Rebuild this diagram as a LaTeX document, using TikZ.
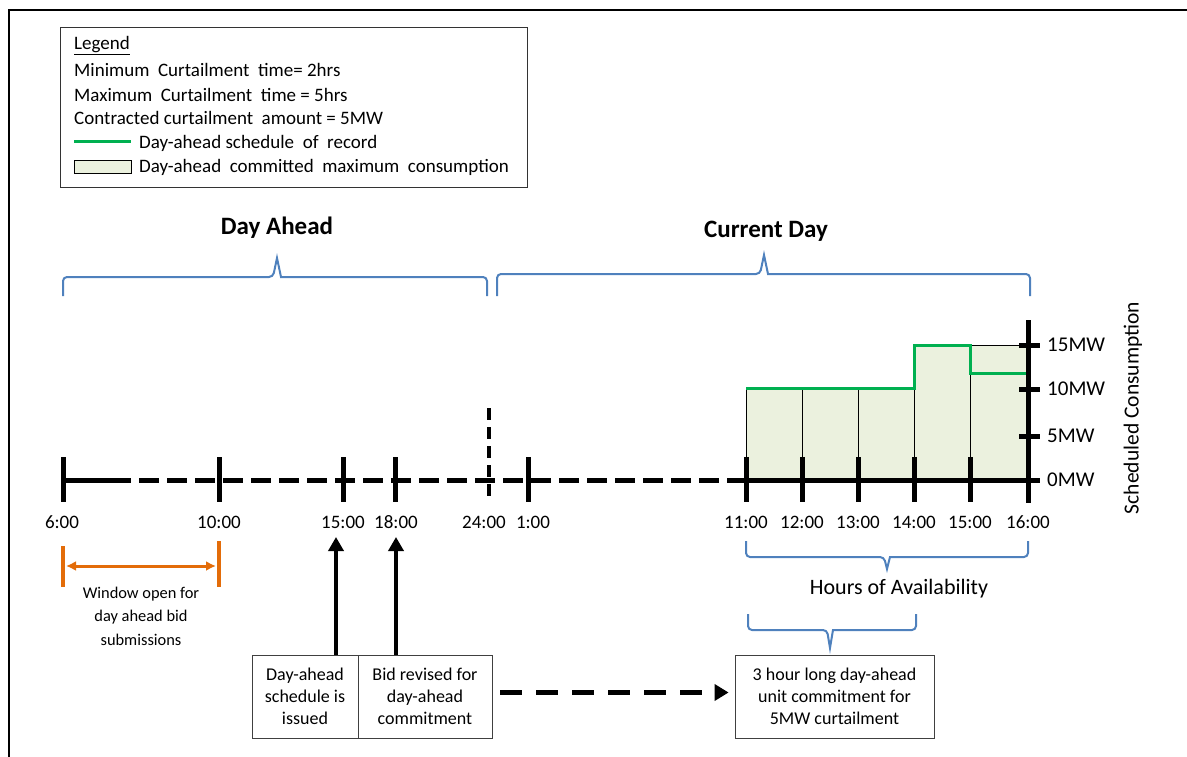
\documentclass[tikz,border=0pt]{standalone}
\usepackage{fontspec}
\setmainfont{Carlito}
\usetikzlibrary{arrows.meta}
\definecolor{schedgreen}{HTML}{00B050}
\definecolor{commitfill}{HTML}{EBF1DE}
\definecolor{braceblue}{HTML}{4F81BD}
\definecolor{winorange}{HTML}{E36C09}
\tikzstyle{bigtick}=[line width=5pt]
\tikzstyle{timelbl}=[font=\fontsize{19}{20}\selectfont,inner sep=0pt]
\tikzstyle{mwlbl}=[font=\fontsize{21}{22}\selectfont,anchor=west,inner sep=0pt]
\tikzstyle{legtext}=[font=\fontsize{19}{20}\selectfont,anchor=west,inner sep=0pt]
\tikzstyle{notebox}=[draw=black!75,thick,minimum height=83pt,align=center,
                     font=\fontsize{18}{22}\selectfont,inner sep=0pt]
\tikzstyle{bracepath}=[braceblue,line width=2pt,rounded corners=4pt]
\tikzstyle{uparrow}=[line width=4pt,-{Triangle[length=14pt,width=15pt]}]

\begin{document}
\begin{tikzpicture}[x=1pt,y=-1pt]
    \useasboundingbox (0,0) rectangle (1187,757);
    \draw[line width=2pt] (9,757) -- (9,10) -- (1187,10);

    % legend
    \draw[draw=black!80,thick] (60,27) rectangle (527,187);
    \node (lgtitle) at (74,46) [legtext]{\underline{Legend}};
    \node (lgmin) at (74,70) [legtext]{Minimum\ \ Curtailment\ \ time= 2hrs};
    \node (lgmax) at (74,95) [legtext]{Maximum\ \ Curtailment\ \ time = 5hrs};
    \node (lgamt) at (74,118) [legtext]{Contracted\ curtailment\ \ amount = 5MW};
    \draw[schedgreen,line width=3pt] (74,142) -- (131,142);
    \node (lgsched) at (139,143) [legtext]{Day-ahead\ schedule\ \ of\ \ record};
    \draw[fill=commitfill,thick] (74,160) rectangle (131,173);
    \node (lgcommit) at (139,167) [legtext]{Day-ahead\ \ committed\ \ maximum\ \ consumption};

    % day headings and braces
    \node (dayahead) at (277,228) [font=\fontsize{25}{26}\selectfont\bfseries]{Day Ahead};
    \node (curday) at (766,231) [font=\fontsize{25}{26}\selectfont\bfseries]{Current Day};
    \draw[bracepath] (63,296) -- (63,277) -- (273,277) [sharp corners] -- (277,258)
                     -- (281,277) [rounded corners=4pt] -- (487,277) -- (487,296);
    \draw[bracepath] (497,296) -- (497,274) -- (760,274) [sharp corners] -- (764,255)
                     -- (768,274) [rounded corners=4pt] -- (1030,274) -- (1030,296);

    % committed consumption blocks
    \fill[commitfill] (746,480) -- (746,388) -- (914,388) -- (914,345)
                      -- (1028,345) -- (1028,480) -- cycle;
    \foreach \x/\top in {746/388,802/388,858/388,914/345,970/345}
        \draw[thick] (\x,480) -- (\x,\top);
    \draw[thick] (970,345) -- (1028,345);
    \draw[schedgreen,line width=3pt] (746,388) -- (914,388) -- (914,345)
                      -- (970,345) -- (970,373) -- (1028,373);

    % time axis
    \draw[bigtick] (63,480) -- (131,480);
    \draw[bigtick,dash pattern=on 20pt off 8pt] (139,480) -- (746,480);
    \draw[bigtick] (746,480) -- (1028,480);
    \draw[line width=4pt,dash pattern=on 12pt off 7pt] (489,408) -- (489,500);
    \node (l24) at (484,522) [timelbl]{24:00};
    \foreach \nm/\x/\lx/\lbl in {t6/63/62/6:00,t10/219/219/10:00,t15/343/343/15:00,
                             t18/395/396/18:00,t1/528/533/1:00,c11/746/746/11:00,
                             c12/802/802/12:00,c13/858/858/13:00,c14/914/914/14:00,
                             c15/970/970/15:00,c16/1028/1028/16:00} {
        \coordinate (\nm) at (\x,480);
        \draw[bigtick] (\x,457) -- (\x,502);
        \node (l\nm) at (\lx,522) [timelbl]{\lbl};
    }

    % consumption axis
    \draw[bigtick] (1028,320) -- (1028,503);
    \foreach \y/\lbl in {480/0MW,436/5MW,389/10MW,345/15MW} {
        \draw[bigtick] (1019,\y) -- (1040,\y);
        \node at (1047,\y) [mwlbl]{\lbl};
    }
    \node (ylabel) at (1133,408) [rotate=90,font=\fontsize{21.5}{22}\selectfont]{Scheduled Consumption};

    % bid window
    \draw[winorange,line width=4pt] (63,546) -- (63,587);
    \draw[winorange,line width=4pt] (219,541) -- (219,587);
    \draw[winorange,line width=3pt,{Latex[length=10pt,width=10pt]}-{Latex[length=10pt,width=10pt]}]
        (66,566) -- (216,566);
    \node (window) at (141,616) [align=center,font=\fontsize{16.4}{23.5}\selectfont]
        {Window open for\\day ahead bid\\submissions};

    % availability braces
    \draw[bracepath] (746,541) -- (746,557) -- (884,557) [sharp corners] -- (887,569)
                     -- (890,557) [rounded corners=4pt] -- (1028,557) -- (1028,541);
    \node (avail) at (899,589) [font=\fontsize{22}{24}\selectfont]{Hours of Availability};
    \draw[bracepath] (748,614) -- (748,630) -- (827,630) [sharp corners] -- (830,648)
                     -- (833,630) [rounded corners=4pt] -- (916,630) -- (916,614);

    % boxes
    \node (issued) at (305,696.5) [notebox,minimum width=106pt]{Day-ahead\\schedule is\\issued};
    \node (revised) at (425,696.5) [notebox,minimum width=134pt]{Bid revised for\\day-ahead\\commitment};
    \node (unitc) at (834.5,696.5) [notebox,minimum width=199pt]{3 hour long day-ahead\\unit commitment for\\5MW curtailment};
    \coordinate (a15) at (336,537);
    \coordinate (a18) at (396,537);
    \draw[uparrow] ([xshift=31pt]issued.north) -- (a15);
    \draw[uparrow] ([xshift=-29pt]revised.north) -- (a18);
    \draw[line width=5pt,dash pattern=on 22pt off 14pt,-{Triangle[length=14pt,width=16pt]}]
        ([xshift=8pt,yshift=4pt]revised.east) -- ([xshift=-6pt,yshift=4pt]unitc.west);
\end{tikzpicture}
\end{document}
